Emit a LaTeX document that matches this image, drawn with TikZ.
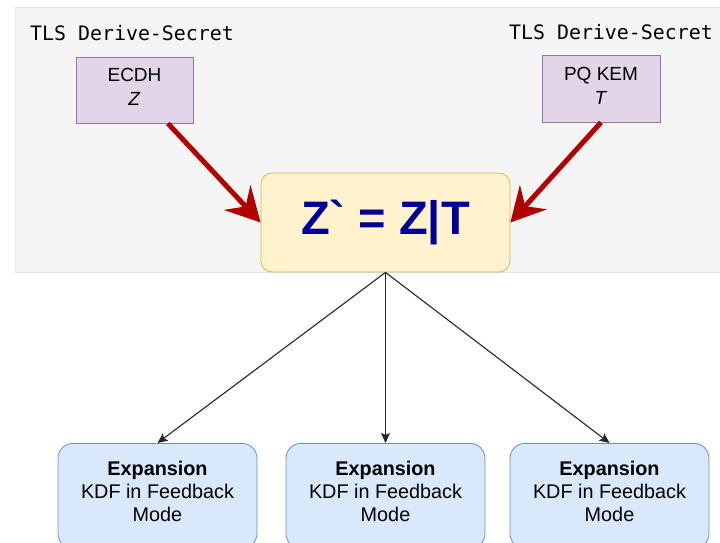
\documentclass[tikz,border=0pt]{standalone}
\usepackage{fontspec}
\setmainfont{Liberation Sans}
\newfontfamily\monofont{DejaVu Sans Mono}
\newfontfamily\plainsans{Liberation Sans}
\usetikzlibrary{arrows.meta}
\definecolor{panelfill}{HTML}{F5F5F5}
\definecolor{panelline}{HTML}{E3E3E3}
\definecolor{purplefill}{HTML}{E1D5E7}
\definecolor{purpleline}{HTML}{9673A6}
\definecolor{yellowfill}{HTML}{FFF2CC}
\definecolor{yellowline}{HTML}{D6B656}
\definecolor{bluefill}{HTML}{DAE8FC}
\definecolor{blueline}{HTML}{6C8EBF}
\definecolor{arrowred}{HTML}{B20000}
\definecolor{textblue}{HTML}{000099}

\begin{document}
\begin{tikzpicture}[x=1pt,y=-1pt,
  secretbox/.style={draw=purpleline,fill=purplefill,line width=0.8pt,minimum width=117pt,minimum height=66pt,align=center,font=\fontsize{19}{24}\selectfont},
  combbox/.style={draw=yellowline,fill=yellowfill,line width=0.8pt,rounded corners=11pt,minimum width=249pt,minimum height=99pt,font=\plainsans\fontsize{47}{50}\selectfont\bfseries,text=textblue},
  expbox/.style={draw=blueline,fill=bluefill,line width=0.8pt,rounded corners=15pt,minimum width=199pt,minimum height=105pt,anchor=north,align=center,font=\fontsize{19.8}{23}\selectfont},
  derivelabel/.style={inner sep=0pt,font=\monofont\fontsize{19.9}{20}\selectfont},
  redarrow/.style={-{Stealth[length=34pt,width=36pt,inset=12pt]},arrowred,line width=5pt},
  thinarrow/.style={-{Stealth[length=10pt,width=9pt,inset=2pt]},black!85,line width=1.1pt}]
\useasboundingbox (0,0) rectangle (720,542);
\fill[white] (0,0) rectangle (720,542);
\filldraw[fill=panelfill,draw=panelline,line width=0.8pt] (15,7) rectangle (730,272);
\node[derivelabel,anchor=west] (lderive) at (30,33) {TLS Derive-Secret};
\node[derivelabel,anchor=east] (rderive) at (713,32) {TLS Derive-Secret};
\node[secretbox] (ecdh) at (134.5,90) {ECDH\\\textit{Z}\rule[-6pt]{0pt}{6pt}};
\node[secretbox,minimum width=118pt,minimum height=67pt] (pqkem) at (601,88.5) {PQ KEM\\\textit{T}\rule[-6pt]{0pt}{6pt}};
\node[combbox] (zt) at (385.5,222.5) {Z\symbol{"60} = Z|T};
\node[expbox] (exp1) at (157.5,443) {\textbf{Expansion}\\KDF in Feedback\\Mode\rule[-9pt]{0pt}{9pt}};
\node[expbox] (exp2) at (385.5,443) {\textbf{Expansion}\\KDF in Feedback\\Mode\rule[-9pt]{0pt}{9pt}};
\node[expbox] (exp3) at (609.5,443) {\textbf{Expansion}\\KDF in Feedback\\Mode\rule[-9pt]{0pt}{9pt}};
\draw[redarrow] (ecdh.-45) -- (zt.west);
\draw[redarrow] (pqkem.south) -- (zt.east);
\draw[thinarrow] (zt.south) -- (exp1.north);
\draw[thinarrow] (zt.south) -- (exp2.north);
\draw[thinarrow] (zt.south) -- (exp3.north);
\end{tikzpicture}
\end{document}
